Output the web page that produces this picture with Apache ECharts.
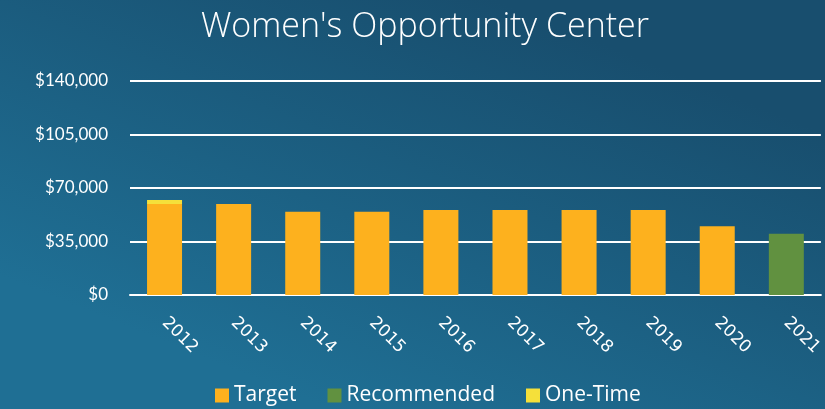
<!DOCTYPE html>
<html lang="en" style="height: 100%">
<head>
    <meta charset="UTF-8">
    <title>Women's Opportunity Center</title>
    <script src="https://cdn.jsdelivr.net/npm/echarts@6/dist/echarts.min.js"></script>
</head>
<body style="height: 100%; margin: 0">
<div id="main" style="width: 825px; height: 409px"></div>
<script>
    var years = ['2012', '2013', '2014', '2015', '2016', '2017', '2018', '2019', '2020', '2021'];
    var target = [59500, 59500, 54500, 54500, 55600, 55600, 55600, 55600, 45000, '-'];
    var recommended = ['-', '-', '-', '-', '-', '-', '-', '-', '-', 40000];
    var oneTime = [2600, '-', '-', '-', '-', '-', '-', '-', '-', '-'];

    var myChart = echarts.init(document.getElementById('main'));
    var myoption = {
        backgroundColor: new echarts.graphic.LinearGradient(0.6, 0, 0.4, 1, [
            {offset: 0, color: '#184e6e'},
            {offset: 1, color: '#1f6f94'}
        ]),
        title: {
            text: "Women's Opportunity Center",
            left: 196,
            top: 5,
            textStyle: {
                color: '#fff',
                fontFamily: 'Open Sans',
                fontWeight: 300,
                fontSize: 34
            }
        },
        legend: {
            data: ['Target', 'Recommended', 'One-Time'],
            bottom: -2,
            left: 210,
            itemWidth: 14,
            itemHeight: 14,
            itemGap: 31,
            icon: 'rect',
            textStyle: {
                color: '#fff',
                fontFamily: 'Open Sans',
                fontSize: 21
            }
        },
        grid: {
            left: 130,
            right: 3,
            top: 81,
            bottom: 114
        },
        xAxis: {
            type: 'category',
            data: years,
            axisLine: {lineStyle: {color: '#fff', width: 2}},
            axisTick: {show: false},
            axisLabel: {
                rotate: -45,
                color: '#fff',
                fontFamily: 'DejaVu Sans',
                fontSize: 17,
                margin: 25
            }
        },
        yAxis: {
            type: 'value',
            min: 0,
            max: 140000,
            interval: 35000,
            axisLine: {show: false},
            axisTick: {show: false},
            splitLine: {lineStyle: {color: '#fff', width: 2}},
            axisLabel: {
                color: '#fff',
                fontFamily: 'Lato',
                fontSize: 17,
                margin: 22,
                formatter: function (v) {
                    return '$' + v.toLocaleString('en-US');
                }
            }
        },
        series: [{
            name: 'Target',
            type: 'bar',
            stack: 'total',
            barWidth: 35,
            itemStyle: {color: '#fdb11e'},
            data: target
        }, {
            name: 'Recommended',
            type: 'bar',
            stack: 'total',
            barWidth: 35,
            itemStyle: {color: '#619140'},
            data: recommended
        }, {
            name: 'One-Time',
            type: 'bar',
            stack: 'total',
            barWidth: 35,
            itemStyle: {color: '#f5e03a'},
            data: oneTime
        }]
    };
    myChart.setOption(myoption);
</script>
</body>
</html>
